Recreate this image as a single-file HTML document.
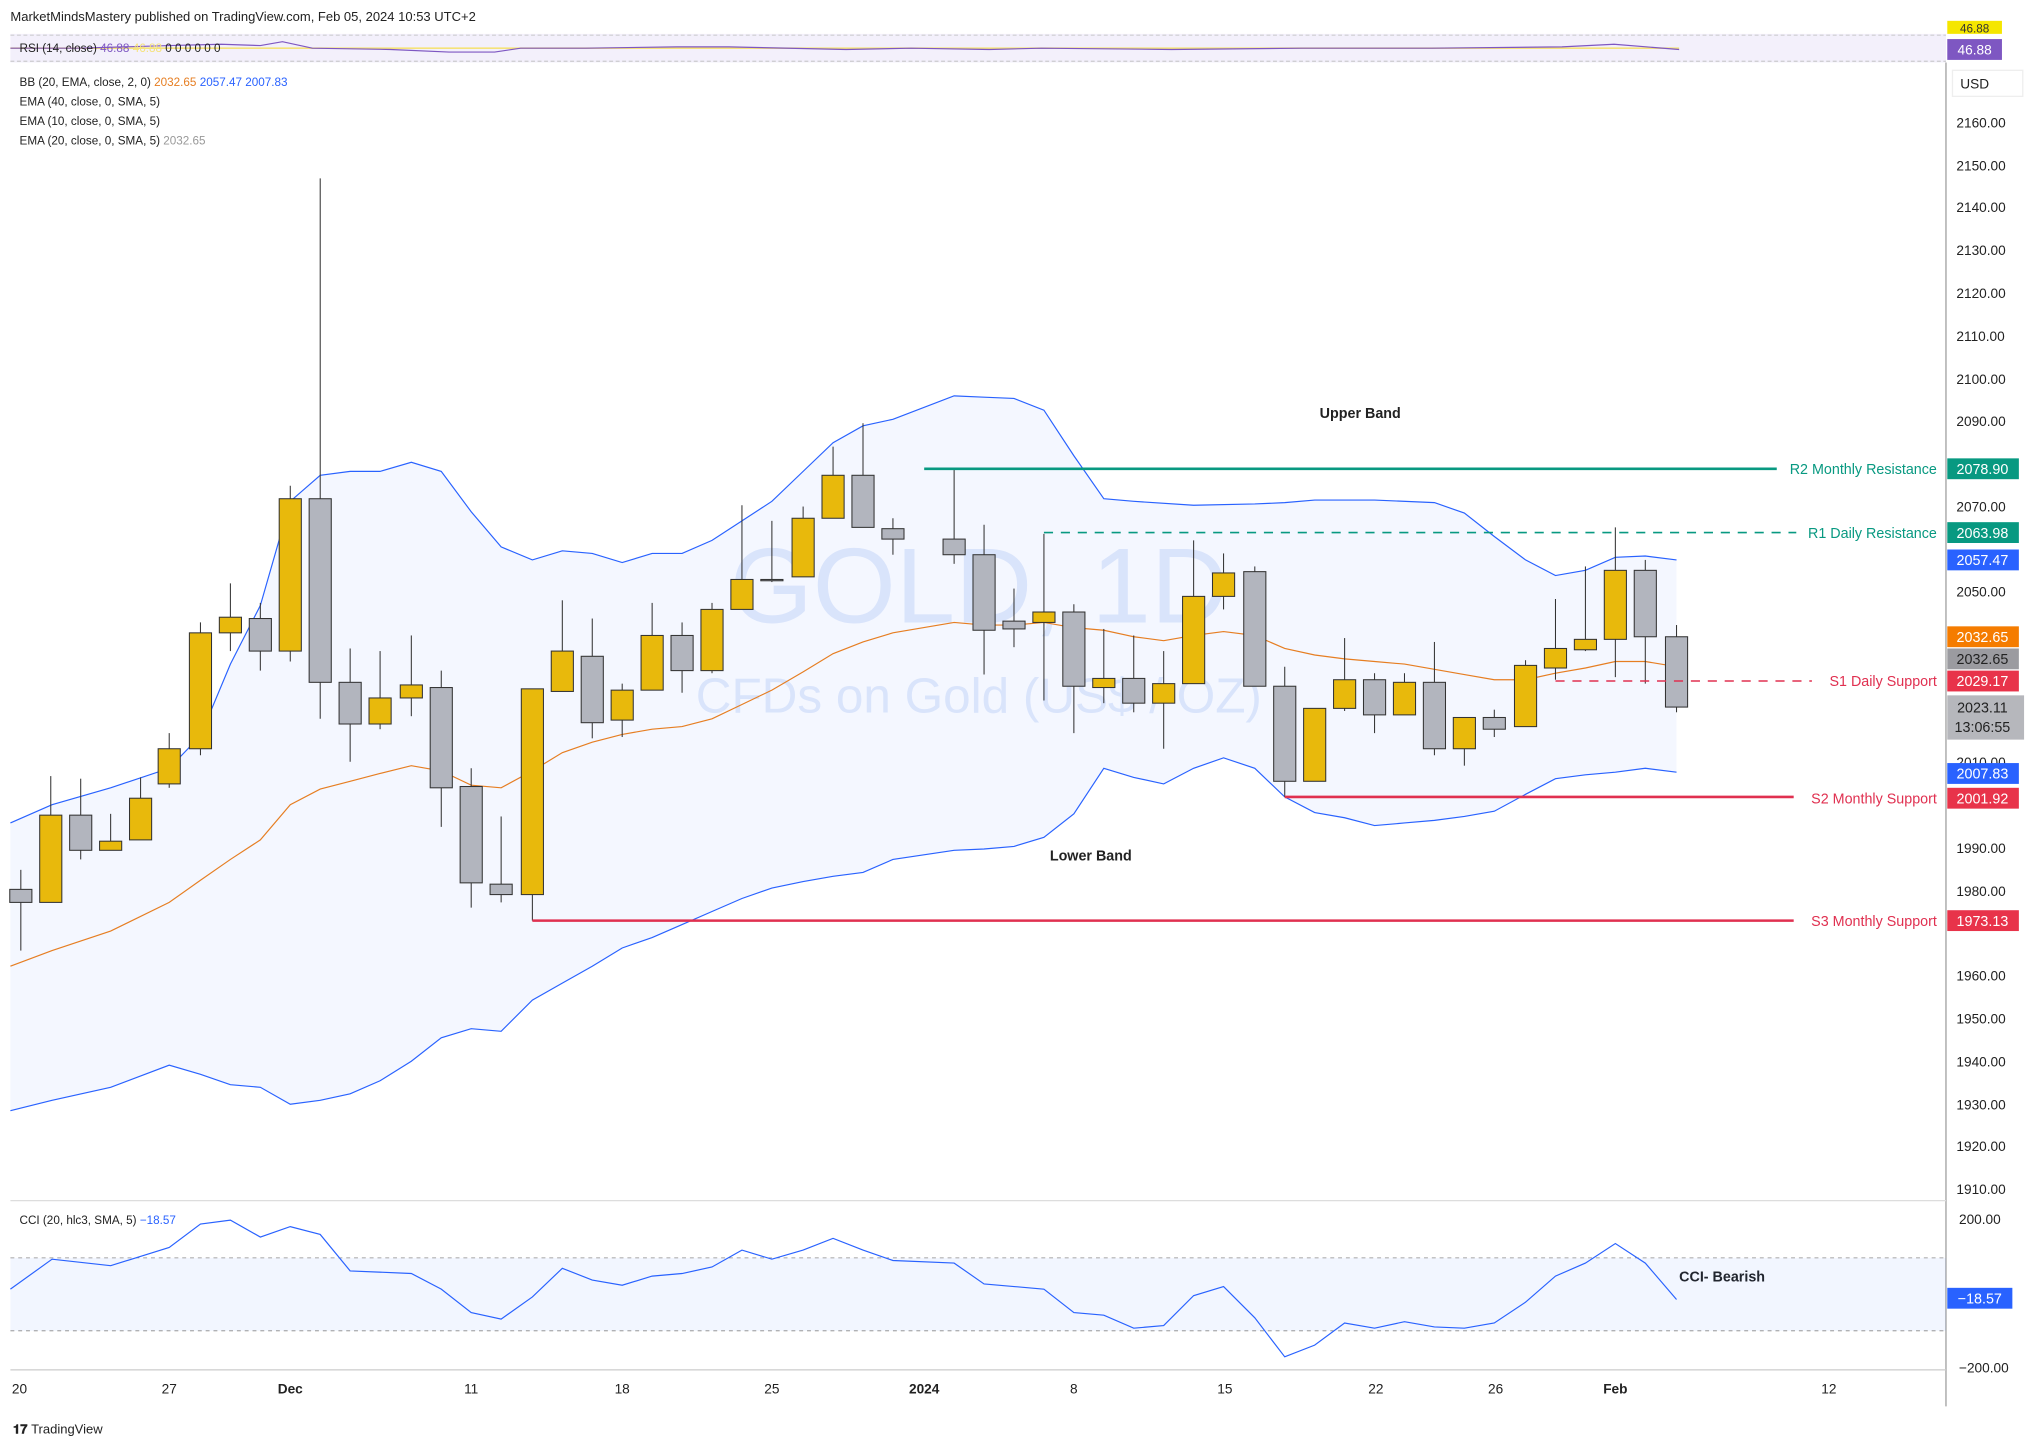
<!DOCTYPE html>
<html><head><meta charset="utf-8"><style>
html,body{margin:0;padding:0;background:#fff;}
svg{display:block;font-family:"Liberation Sans",sans-serif;}
</style></head><body>
<svg id="s" width="2041" height="1448" viewBox="0 0 1568 1112" preserveAspectRatio="none" xmlns="http://www.w3.org/2000/svg">
<rect width="1568" height="1112" fill="#fff"/>
<text x="8" y="16" font-size="10" fill="#222">MarketMindsMastery published on TradingView.com, Feb 05, 2024 10:53 UTC+2</text>
<!-- RSI strip -->
<rect x="8" y="26" width="1487" height="22" fill="#f3f0fb"/>
<line x1="8" y1="27" x2="1495" y2="27" stroke="#bbb" stroke-dasharray="3,2" stroke-width="0.6"/>
<line x1="8" y1="47" x2="1495" y2="47" stroke="#bbb" stroke-dasharray="3,2" stroke-width="0.6"/>
<line x1="8" y1="37" x2="1290" y2="37" stroke="#f5e27a" stroke-width="1.2"/>
<polyline fill="none" stroke="#7e57c2" stroke-width="0.9" points="8,37 60,37 130,35 170,34 200,35 217,32 240,37 300,38 345,40 380,40 400,37 450,37 520,36 560,36 650,38 700,37 760,38 800,37 900,38 1000,37 1100,37 1200,36 1240,34 1290,38"/>
<text x="15" y="40" font-size="9" fill="#222">RSI (14, close) <tspan fill="#7e57c2">46.88</tspan> <tspan fill="#f5e27a">46.88</tspan>  0 0 0 0 0 0</text>
<rect x="1496" y="16" width="42" height="10" fill="#f5e600"/>
<text x="1517" y="25" font-size="9" fill="#333" text-anchor="middle">46.88</text>
<rect x="1496" y="30" width="42" height="16" fill="#7e57c2"/>
<text x="1517" y="42" font-size="10.5" fill="#fff" text-anchor="middle">46.88</text>
<!-- legend -->
<g font-size="9" fill="#222">
<text x="15" y="66">BB (20, EMA, close, 2, 0) <tspan fill="#e67e22">2032.65</tspan> <tspan fill="#2962ff">2057.47</tspan> <tspan fill="#2962ff">2007.83</tspan></text>
<text x="15" y="81">EMA (40, close, 0, SMA, 5)</text>
<text x="15" y="96">EMA (10, close, 0, SMA, 5)</text>
<text x="15" y="111">EMA (20, close, 0, SMA, 5) <tspan fill="#999">2032.65</tspan></text>
</g>
<!-- axis -->
<line x1="1495" y1="48" x2="1495" y2="1080" stroke="#888" stroke-width="0.8"/>
<rect x="1500" y="54" width="54" height="20" fill="#fff" stroke="#eee"/>
<text x="1506" y="68" font-size="10.5" fill="#222">USD</text>
<g font-size="10.5" fill="#222">
<text x="1503" y="98">2160.00</text><text x="1503" y="131">2150.00</text><text x="1503" y="163">2140.00</text><text x="1503" y="196">2130.00</text><text x="1503" y="229">2120.00</text><text x="1503" y="262">2110.00</text><text x="1503" y="295">2100.00</text><text x="1503" y="327">2090.00</text><text x="1503" y="393">2070.00</text><text x="1503" y="458">2050.00</text><text x="1503" y="589">2010.00</text><text x="1503" y="655">1990.00</text><text x="1503" y="688">1980.00</text><text x="1503" y="753">1960.00</text><text x="1503" y="786">1950.00</text><text x="1503" y="819">1940.00</text><text x="1503" y="852">1930.00</text><text x="1503" y="884">1920.00</text><text x="1503" y="917">1910.00</text>
</g>
<!-- watermark -->
<text x="752" y="478" font-size="82" fill="#e3ebfb" text-anchor="middle">GOLD, 1D</text>
<text x="752" y="547" font-size="38" fill="#e3ebfb" text-anchor="middle">CFDs on Gold (US$ / OZ)</text>
<!-- BB fill -->
<polygon id="bbf" fill="#2962ff" fill-opacity="0.05"/>
<polyline id="up" fill="none" stroke="#2962ff" stroke-width="0.9"/>
<polyline id="lo" fill="none" stroke="#2962ff" stroke-width="0.9"/>
<polyline id="ema" fill="none" stroke="#e67e22" stroke-width="0.9"/>
<g id="cd"></g>
<!-- levels -->
<line x1="710" y1="360" x2="1365" y2="360" stroke="#089981" stroke-width="2"/>
<line x1="802" y1="409" x2="1380" y2="409" stroke="#089981" stroke-width="1.2" stroke-dasharray="7,6"/>
<line x1="1195" y1="523" x2="1392" y2="523" stroke="#e03050" stroke-width="1.2" stroke-dasharray="7,6"/>
<line x1="987" y1="612" x2="1378" y2="612" stroke="#e03050" stroke-width="2"/>
<line x1="409" y1="707" x2="1378" y2="707" stroke="#e03050" stroke-width="2"/>
<g font-size="11" text-anchor="end">
<text x="1488" y="364" fill="#089981">R2 Monthly Resistance</text>
<text x="1488" y="413" fill="#089981">R1 Daily Resistance</text>
<text x="1488" y="527" fill="#e03050">S1 Daily Support</text>
<text x="1488" y="617" fill="#e03050">S2 Monthly Support</text>
<text x="1488" y="711" fill="#e03050">S3 Monthly Support</text>
</g>
<g font-size="11" font-weight="bold" fill="#222" text-anchor="middle">
<text x="1045" y="321">Upper Band</text>
<text x="838" y="661">Lower Band</text>
<text x="1323" y="984">CCI- Bearish</text>
</g>
<!-- price labels -->
<g font-size="11" text-anchor="middle">
<rect x="1496" y="352" width="55" height="16" fill="#089981"/><text x="1523" y="364" fill="#fff">2078.90</text>
<rect x="1496" y="401" width="55" height="16" fill="#089981"/><text x="1523" y="413" fill="#fff">2063.98</text>
<rect x="1496" y="422" width="55" height="16" fill="#2962ff"/><text x="1523" y="434" fill="#fff">2057.47</text>
<rect x="1496" y="481" width="55" height="16" fill="#f57c00"/><text x="1523" y="493" fill="#fff">2032.65</text>
<rect x="1496" y="498" width="55" height="16" fill="#9b9ba0"/><text x="1523" y="510" fill="#222">2032.65</text>
<rect x="1496" y="515" width="55" height="16" fill="#e8334a"/><text x="1523" y="527" fill="#fff">2029.17</text>
<rect x="1496" y="534" width="59" height="34" fill="#b6b7bc"/><text x="1523" y="547" fill="#222">2023.11</text><text x="1523" y="562" fill="#222">13:06:55</text>
<rect x="1496" y="586" width="55" height="16" fill="#2962ff"/><text x="1523" y="598" fill="#fff">2007.83</text>
<rect x="1496" y="605" width="55" height="16" fill="#e8334a"/><text x="1523" y="617" fill="#fff">2001.92</text>
<rect x="1496" y="699" width="55" height="16" fill="#e8334a"/><text x="1523" y="711" fill="#fff">1973.13</text>
</g>
<!-- CCI panel -->
<line x1="8" y1="922" x2="1495" y2="922" stroke="#ddd"/>
<rect x="8" y="966" width="1487" height="56" fill="#2962ff" fill-opacity="0.06"/>
<line x1="8" y1="966" x2="1495" y2="966" stroke="#888" stroke-dasharray="3,3" stroke-width="0.6"/>
<line x1="8" y1="1022" x2="1495" y2="1022" stroke="#888" stroke-dasharray="3,3" stroke-width="0.6"/>
<polyline fill="none" stroke="#2962ff" stroke-width="0.9" points="8,990 40,967 85,972 130,958 154,940 177,937 200,950 223,942 246,948 269,976 316,978 339,990 362,1008 385,1013 409,996 432,974 455,983 478,987 501,980 524,978 547,973 570,960 593,967 617,960 640,951 663,960 686,968 733,970 756,986 779,988 802,990 825,1008 848,1010 871,1020 894,1018 917,995 940,988 964,1012 987,1042 1010,1033 1033,1016 1056,1020 1079,1015 1102,1019 1125,1020 1148,1016 1172,1000 1195,980 1218,970 1241,955 1264,970 1288,998"/>
<text x="15" y="940" font-size="9" fill="#222">CCI (20, hlc3, SMA, 5) <tspan fill="#2962ff">−18.57</tspan></text>
<g font-size="10.5" fill="#222"><text x="1505" y="940">200.00</text><text x="1505" y="1054">−200.00</text></g>
<rect x="1496" y="989" width="50" height="16" fill="#2962ff"/><text x="1521" y="1001" font-size="11" fill="#fff" text-anchor="middle">−18.57</text>
<!-- time axis -->
<line x1="8" y1="1052" x2="1495" y2="1052" stroke="#ccc"/>
<g font-size="10.5" fill="#222" text-anchor="middle">
<text x="15" y="1070">20</text><text x="130" y="1070">27</text><text x="223" y="1070" font-weight="bold">Dec</text><text x="362" y="1070">11</text><text x="478" y="1070">18</text><text x="593" y="1070">25</text><text x="710" y="1070" font-weight="bold">2024</text><text x="825" y="1070">8</text><text x="941" y="1070">15</text><text x="1057" y="1070">22</text><text x="1149" y="1070">26</text><text x="1241" y="1070" font-weight="bold">Feb</text><text x="1405" y="1070">12</text>
</g>
<text x="10" y="1101" font-size="10" fill="#222" font-weight="bold">𝟏𝟕 <tspan font-weight="normal">TradingView</tspan></text>
</svg>
<script>
var up=[[8,632],[40,618],[85,605],[130,590],[154,565],[177,510],[200,465],[223,385],[246,365],[269,362],[292,362],[316,355],[339,362],[362,393],[385,420],[409,430],[432,423],[455,425],[478,432],[501,425],[524,425],[547,415],[570,400],[593,385],[617,362],[640,340],[663,327],[686,322],[733,304],[756,305],[779,306],[802,315],[825,350],[848,383],[871,385],[917,388],[964,387],[987,386],[1010,384],[1056,384],[1102,386],[1125,394],[1148,412],[1172,430],[1195,442],[1218,438],[1241,428],[1264,427],[1288,430]];
var lo=[[8,853],[40,845],[85,835],[130,818],[154,825],[177,833],[200,835],[223,848],[246,845],[269,840],[292,830],[316,815],[339,797],[362,790],[385,792],[409,768],[432,755],[455,742],[478,728],[501,720],[524,710],[547,700],[570,690],[593,682],[617,677],[640,673],[663,670],[686,660],[733,653],[756,652],[779,650],[802,643],[825,625],[848,590],[871,597],[894,602],[917,590],[940,582],[964,590],[987,612],[1010,624],[1033,628],[1056,634],[1079,632],[1102,630],[1125,627],[1148,623],[1172,610],[1195,598],[1218,595],[1241,593],[1264,590],[1288,593]];
var em=[[8,742],[40,730],[85,715],[130,693],[154,676],[177,660],[200,645],[223,618],[246,606],[269,600],[292,594],[316,588],[339,592],[362,603],[385,605],[409,592],[432,578],[455,570],[478,564],[501,560],[524,558],[547,552],[570,541],[593,530],[617,516],[640,502],[663,493],[686,486],[733,478],[756,480],[779,480],[802,478],[825,482],[848,484],[871,489],[894,492],[917,488],[940,485],[964,488],[987,498],[1010,503],[1033,506],[1056,508],[1079,510],[1102,514],[1125,518],[1148,522],[1172,522],[1195,517],[1218,513],[1241,508],[1264,508],[1288,512]];
function s(a){return a.map(p=>p.join(',')).join(' ');}
document.getElementById('up').setAttribute('points',s(up));
document.getElementById('lo').setAttribute('points',s(lo));
document.getElementById('ema').setAttribute('points',s(em));
document.getElementById('bbf').setAttribute('points',s(up)+' '+s(lo.slice().reverse()));
var C=[[16,683,693,668,730,0],[39,626,693,596,693,1],[62,626,653,598,660,0],[85,646,653,625,653,1],[108,613,645,597,645,1],[130,575,602,563,605,1],[154,486,575,478,580,1],[177,474,486,448,500,1],[200,475,500,463,515,0],[223,383,500,373,508,1],[246,383,524,137,552,0],[269,524,556,498,585,0],[292,536,556,500,560,1],[316,526,536,488,550,1],[339,528,605,515,635,0],[362,604,678,590,697,0],[385,679,687,627,693,0],[409,529,687,529,707,1],[432,500,531,461,531,1],[455,504,555,475,567,0],[478,530,553,525,566,1],[501,488,530,463,530,1],[524,488,515,478,532,0],[547,468,515,463,517,1],[570,445,468,388,468,1],[593,445,446,400,447,0],[617,398,443,389,443,1],[640,365,398,343,398,1],[663,365,405,325,405,0],[686,406,414,398,426,0],[733,414,426,360,433,0],[756,426,484,403,518,0],[779,477,483,452,497,0],[802,470,478,410,538,1],[825,470,527,464,563,0],[848,521,528,483,540,1],[871,521,540,488,547,0],[894,525,540,500,575,1],[917,458,525,415,525,1],[940,440,458,425,468,1],[964,439,527,435,527,0],[987,527,600,512,612,0],[1010,544,600,544,600,1],[1033,522,544,490,546,1],[1056,522,549,517,563,0],[1079,524,549,517,549,1],[1102,524,575,493,580,0],[1125,551,575,551,588,1],[1148,551,560,545,566,0],[1172,511,558,507,558,1],[1195,498,513,460,522,1],[1218,491,499,435,500,1],[1241,438,491,405,520,1],[1264,438,489,430,525,0],[1288,489,543,480,547,0]];
var g=document.getElementById('cd'),h='';
C.forEach(c=>{var f=c[5]?'#e8b90c':'#b2b5be';h+='<line x1="'+c[0]+'" y1="'+c[3]+'" x2="'+c[0]+'" y2="'+c[4]+'" stroke="#333" stroke-width="0.8"/>';h+='<rect x="'+(c[0]-8.5)+'" y="'+c[1]+'" width="17" height="'+Math.max(1,c[2]-c[1])+'" fill="'+f+'" stroke="#333" stroke-width="0.8"/>';});
g.innerHTML=h;
</script>
</body></html>
